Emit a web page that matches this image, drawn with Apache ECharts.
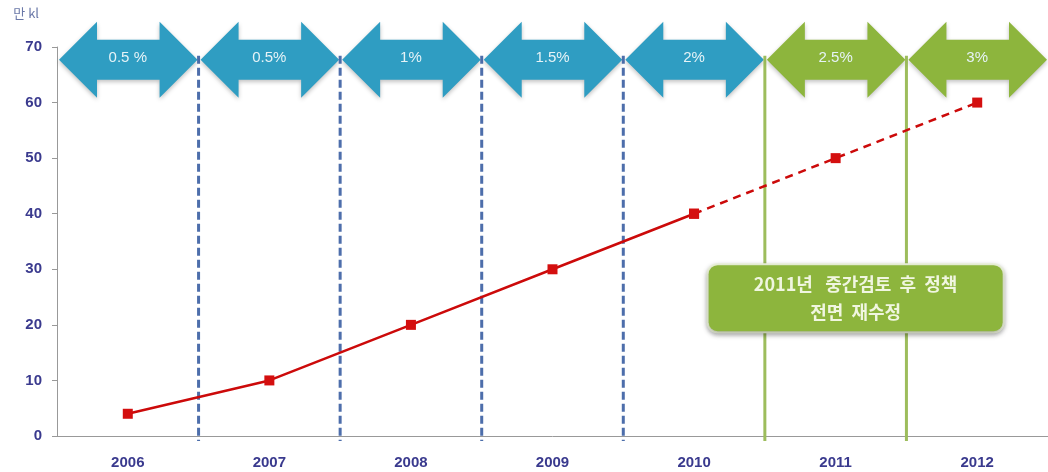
<!DOCTYPE html>
<html><head><meta charset="utf-8">
<script src="https://cdn.jsdelivr.net/npm/echarts@6/dist/echarts.min.js"></script>
<style>html,body{margin:0;padding:0;background:#fff}#c{width:1048px;height:472px}</style>
</head><body><div id="c"></div>
<script>
const years = ['2006','2007','2008','2009','2010','2011','2012'];
const actual = [4, 10, 20, 30, 40, null, null];
const planned = [null, null, null, null, 40, 50, 60];
const phaseLabels = ['0.5 %','0.5%','1%','1.5%','2%','2.5%','3%'];
const phaseKinds = ['blue','blue','blue','blue','blue','green','green'];
const noteText = '2011년   중간검토  후  정책\n전면  재수정';
const unitName = '만 kl';

const COLORS = {blue:'#2f9dc2', green:'#8db53d'};
const DIV = {blue:'#4d6eab', green:'#9dbd5c'};

const chart = echarts.init(document.getElementById('c'), null, {renderer:'canvas'});
const phaseData = years.map((y,i)=>[i, 67.7]);

function renderPhase(params, api){
  const i = api.value(0);
  const c = api.coord([i, api.value(1)]);
  const band = api.size([1,0])[0];
  const bottom = api.coord([i, 0])[1];
  const xL = c[0] - band/2 + 2, xR = c[0] + band/2 - 1;
  const cy = c[1];
  const hl = 38, hh = 38, sh = 20;
  const kind = phaseKinds[i];
  const pts = [[xL,cy],[xL+hl,cy-hh],[xL+hl,cy-sh],[xR-hl,cy-sh],[xR-hl,cy-hh],[xR,cy],[xR-hl,cy+hh],[xR-hl,cy+sh],[xL+hl,cy+sh],[xL+hl,cy+hh]];
  const children = [];
  if (i > 0) {
    const xd = c[0] - band/2;
    children.push({type:'line', shape:{x1:xd,y1:cy-4,x2:xd,y2:bottom+5},
      style:{stroke:DIV[kind], lineWidth:3, lineDash: kind==='blue'?[8,4]:null}});
  }
  children.push({type:'polygon', shape:{points:pts},
    style:{fill:COLORS[kind], shadowBlur:4, shadowColor:'rgba(0,0,0,0.25)', shadowOffsetY:2}});
  children.push({type:'text', style:{text:phaseLabels[i], x:c[0], y:cy-2, align:'center', verticalAlign:'middle',
    fill:'#e6f3f7', font:'15px "Liberation Sans", Arial, sans-serif'}});
  return {type:'group', children};
}

chart.setOption({
  animation:false,
  grid:{left:57, top:47, height:389, width:996},
  xAxis:{type:'category', data:years, boundaryGap:true,
    axisLine:{lineStyle:{color:'#999', width:1}},
    axisTick:{show:false},
    axisLabel:{color:'#3a3a8e', fontWeight:'bold', fontSize:15, margin:19, fontFamily:'"Liberation Sans", Arial'}},
  yAxis:{type:'value', min:0, max:70, interval:10,
    name:unitName, nameLocation:'end', nameGap:27,
    nameTextStyle:{color:'#6a78a8', fontSize:13, align:'right', padding:[0,18,0,0], fontFamily:'"Noto Sans CJK KR"'},
    axisLine:{show:true, lineStyle:{color:'#999'}},
    axisTick:{show:true, length:5, lineStyle:{color:'#999'}},
    splitLine:{show:false},
    axisLabel:{color:'#3a3a8e', fontWeight:'bold', fontSize:15, margin:15, fontFamily:'"Liberation Sans", Arial'}},
  series:[
    {type:'custom', name:'phase', renderItem:renderPhase, data:phaseData, encode:{x:0,y:1}, clip:false, silent:true, z:1},
    {type:'line', name:'actual', data:actual, symbol:'rect', symbolSize:10, z:5,
      lineStyle:{color:'#cc0a0a', width:2.5}, itemStyle:{color:'#d40f0f'}},
    {type:'line', name:'planned', data:planned, symbol:'rect', symbolSize:10, z:5,
      lineStyle:{color:'#cc0a0a', width:2.5, type:[8,6]}, itemStyle:{color:'#d40f0f'},
      markPoint:{silent:true, symbol:'rect', symbolSize:1, symbolOffset:[20,0],
        itemStyle:{color:'rgba(0,0,0,0)'},
        label:{show:true, position:'inside', formatter:noteText, color:'#f0f6e0', fontSize:18, fontWeight:'bold', lineHeight:28,
          fontFamily:'"Noto Sans CJK KR"', align:'center', verticalAlign:'middle',
          backgroundColor:'#8db53d', borderColor:'#eef5dc', borderWidth:2, borderRadius:9,
          width:270, padding:[5,12,5,12],
          shadowBlur:5, shadowColor:'rgba(0,0,0,0.3)', shadowOffsetY:2},
        data:[{coord:['2011', 24.8]}]}}
  ]
});
</script></body></html>
